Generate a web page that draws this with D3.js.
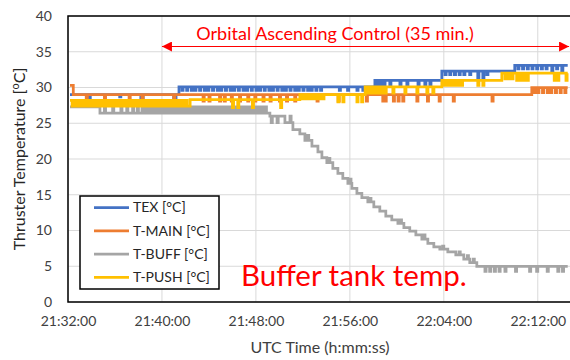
<!DOCTYPE html>
<html>
<head>
<meta charset="utf-8">
<script src="https://cdn.jsdelivr.net/npm/d3@7"></script>
<style>
  body { margin: 0; background: #fff; }
  text { font-family: Lato, "Open Sans", sans-serif; }
</style>
</head>
<body>
<div id="plot"></div>
<script>
// time is minutes after 21:32:00, value is degC
let startTime = "21:32:00";
let xTickLabels = ["21:32:00", "21:40:00", "21:48:00", "21:56:00", "22:04:00", "22:12:00"];
let yTicks = [0, 5, 10, 15, 20, 25, 30, 35, 40];
let seriesNames = ["TEX [°C]", "T-MAIN [°C]", "T-BUFF [°C]", "T-PUSH [°C]"];
let seriesColors = ["#4472C4", "#ED7D31", "#A5A5A5", "#FFC000"];
let controlSpan = ["21:40:00", "22:14:40"]; // orbital ascending control window

let tex = [
[0.17,29.0],[1.7,28.6],[1.9,29.0],[4.4,28.7],[4.5,29.0],[6.2,28.6],[6.4,29.0],[9.0,28.6],[9.2,29.0],
[9.45,30.1],[9.7,29.6],[9.8,30.1],[10.1,29.6],[10.2,30.1],[10.5,29.6],[10.6,30.1],[10.8,29.6],[10.9,30.1],[11.2,29.6],[11.3,30.1],
[11.6,29.6],[11.7,30.1],[11.9,29.6],[12.0,30.1],[12.3,29.6],[12.4,30.1],[12.7,29.6],[12.8,30.1],[13.0,29.6],[13.1,30.1],
[13.4,29.6],[13.5,30.1],[13.8,29.6],[13.9,30.1],[14.1,29.6],[14.2,30.1],[14.5,29.6],[14.6,30.1],[14.9,29.6],[15.0,30.1],
[15.2,29.6],[15.3,30.1],[15.6,29.6],[15.7,30.1],[16.0,29.6],[16.1,30.1],[16.3,29.6],[16.4,30.1],[16.7,29.6],[16.8,30.1],
[17.1,29.6],[17.2,30.1],[17.4,29.6],[17.5,30.1],[17.8,29.6],[17.9,30.1],[18.2,29.6],[18.3,30.1],[18.5,29.6],[18.6,30.1],
[18.9,29.6],[19.0,30.1],[19.3,29.6],[19.4,30.1],[19.6,29.6],[19.7,30.1],[20.0,29.6],[20.1,30.1],[20.4,29.6],[20.5,30.1],
[20.7,29.6],[20.8,30.1],[21.1,29.6],[21.2,30.1],[21.5,29.6],[21.6,30.1],
[23.1,29.6],[23.2,30.1],[23.8,29.6],[23.9,30.1],[24.6,29.6],[24.7,30.1],[25.1,29.6],[25.2,30.1],
[26.13,31.0],[26.3,30.2],[26.4,31.0],[26.6,30.2],[26.7,31.0],[26.9,30.2],[27.0,31.0],[27.4,30.2],[27.5,31.0],[28.26,30.2],[28.36,31.0],
[28.85,30.2],[28.95,31.0],[29.8,30.2],[29.9,31.0],[30.38,30.2],[30.48,31.0],[30.81,30.2],[30.91,31.0],
[31.83,32.3],[32.1,31.8],[32.2,32.3],[32.5,31.8],[32.6,32.3],[32.9,31.8],[33.0,32.3],[33.3,31.8],[33.4,32.3],[33.7,31.8],[33.8,32.3],
[34.2,31.8],[34.3,32.3],[34.89,31.2],[34.99,32.3],[35.32,31.2],[35.42,32.3],[35.66,31.8],[35.76,32.3],
[38.04,33.1],[38.3,32.6],[38.4,33.1],[38.7,32.6],[38.8,33.1],[39.1,32.6],[39.2,33.1],[39.5,32.6],[39.6,33.1],[39.9,32.6],[40.0,33.1],
[40.3,32.6],[40.4,33.1],[40.7,32.6],[40.8,33.1],[41.19,32.3],[41.29,33.1],[41.6,32.6],[41.7,33.1],[42.04,32.3],[42.14,33.1],[42.55,33.1]
];

let tMain = [
[0.17,30.3],[0.45,29.0],[1.55,28.1],[1.65,29.0],[3.1,28.1],[3.2,29.0],[5.2,28.1],[5.3,29.0],[6.3,28.1],[6.4,29.0],[9.0,28.1],[9.1,29.0],
[11.5,28.1],[11.6,29.0],[12.0,28.1],[12.1,29.0],[12.9,28.1],[13.0,29.0],[13.3,28.1],[13.4,29.0],[13.9,28.1],[14.0,29.0],
[14.6,28.1],[14.7,29.0],[15.3,28.1],[15.4,29.0],[15.9,28.1],[16.0,29.0],[16.6,28.1],[16.7,29.0],[17.2,28.1],[17.3,29.0],
[18.0,28.1],[18.1,29.0],[18.6,28.1],[18.7,29.0],[19.3,28.1],[19.4,29.0],[21.2,28.1],[21.3,29.0],[23.0,28.1],[23.1,29.0],
[25.4,28.1],[25.5,29.0],[26.8,28.1],[26.9,29.0],[27.0,28.1],[27.1,29.0],[27.7,28.1],[27.8,29.0],[28.1,28.1],[28.2,29.0],
[28.5,28.1],[28.6,29.0],[29.7,28.1],[29.8,29.0],[30.6,28.1],[30.7,29.0],[31.6,28.1],[31.7,29.0],[32.8,28.1],[32.9,29.0],
[36.1,28.1],[36.2,29.0],
[39.49,30.0],[39.7,29.3],[39.8,30.0],[40.0,29.3],[40.1,30.0],[40.4,29.3],[40.5,30.0],[40.8,29.3],[40.9,30.0],[41.1,29.3],[41.2,30.0],
[41.5,29.3],[41.6,30.0],[41.9,29.3],[42.0,30.0],[42.3,29.3],[42.4,30.0],[42.55,30.0]
];

let tBuff = [
[0.17,27.3],[2.72,26.4],[3.1,27.3],[3.2,26.4],[3.8,27.3],[3.9,26.4],[4.5,27.3],[4.6,26.4],[5.0,27.3],[5.1,26.4],[5.5,27.3],[5.6,26.4],
[5.9,27.3],[6.0,26.4],[6.3,27.3],[6.4,26.4],[6.6,27.3],[6.7,26.4],[6.9,27.3],[7.0,26.4],[7.2,27.3],[7.3,26.4],[7.5,27.3],[7.6,26.4],
[7.8,27.3],[7.9,26.4],[8.1,27.3],[8.2,26.4],[8.4,27.3],[8.5,26.4],[8.7,27.3],[8.8,26.4],[9.0,27.3],[9.1,26.4],[9.3,27.3],[9.4,26.4],
[9.6,27.3],[9.7,26.4],[9.9,27.3],[10.0,26.4],[10.2,27.3],[10.3,26.4],[10.5,27.3],[10.6,26.4],[10.8,27.3],[10.9,26.4],[11.1,27.3],[11.2,26.4],
[11.4,27.3],[11.5,26.4],[11.7,27.3],[11.8,26.4],[12.0,27.3],[12.1,26.4],[12.3,27.3],[12.4,26.4],[12.6,27.3],[12.7,26.4],[12.9,27.3],[13.0,26.4],
[13.2,27.3],[13.3,26.4],[13.5,27.3],[13.6,26.4],[13.8,27.3],[13.9,26.4],[14.1,27.3],[14.2,26.4],[14.4,27.3],[14.5,26.4],[14.7,27.3],[14.8,26.4],
[15.0,27.3],[15.1,26.4],[15.3,27.3],[15.4,26.4],[15.6,27.3],[15.7,26.4],[15.9,27.3],[16.0,26.4],[16.2,27.3],[16.3,26.4],[16.5,27.3],[16.6,26.4],
[16.8,27.3],[16.9,26.4],
[17.19,26.0],[17.3,25.1],[17.4,26.0],[17.8,25.1],[17.9,26.0],
[18.47,25.1],[18.9,26.0],[19.0,25.1],[19.15,24.1],[19.74,23.5],[20.17,22.6],[20.4,23.3],[20.5,22.6],[20.77,21.8],[21.28,21.0],
[21.62,20.2],[22.04,19.5],[22.2,20.1],[22.3,19.5],[22.55,18.7],[22.98,18.0],[23.40,17.3],[23.83,16.6],[24.0,17.2],[24.1,16.6],
[24.17,15.9],[24.60,15.2],[25.02,14.6],[25.53,14.0],[25.7,14.5],[25.8,14.0],[26.04,13.3],[26.55,12.7],[27.06,12.0],[27.57,11.5],
[28.09,11.0],[28.3,11.5],[28.4,11.0],[28.6,10.4],[29.10,9.9],[29.62,9.4],[30.13,8.8],[30.3,9.4],[30.4,8.8],[30.64,8.2],[31.15,7.7],
[31.66,7.4],[31.9,7.8],[32.0,7.4],[32.34,7.0],[33.02,6.6],[33.3,7.0],[33.4,6.6],[33.70,6.0],[34.0,6.5],[34.1,6.0],[34.21,5.5],
[34.5,6.0],[34.6,5.5],[34.81,5.0],
[35.5,4.3],[35.6,5.0],[35.9,4.3],[36.0,5.0],[36.3,4.3],[36.4,5.0],[36.7,4.3],[36.8,5.0],[37.2,4.3],[37.3,5.0],[38.1,4.3],[38.2,5.0],
[39.3,4.3],[39.4,5.0],[39.9,4.3],[40.0,5.0],[40.8,4.3],[40.9,5.0],[41.7,4.3],[41.8,5.0],[42.1,4.3],[42.2,5.0],[42.55,5.0]
];

let tPush = [
[0.17,28.2],[0.35,27.4],[0.5,28.2],[0.7,27.4],[0.85,28.2],[1.05,27.4],[1.2,28.2],[1.4,27.4],[1.55,28.2],[1.75,27.4],[1.9,28.2],
[2.1,27.4],[2.25,28.2],[2.45,27.4],[2.6,28.2],[2.8,27.4],[2.95,28.2],[3.15,27.4],[3.3,28.2],[3.5,27.4],[3.65,28.2],[3.85,27.4],
[4.0,28.2],[4.2,27.4],[4.35,28.2],[4.55,27.4],[4.7,28.2],[4.9,27.4],[5.05,28.2],[5.25,27.4],[5.4,28.2],[5.6,27.4],[5.75,28.2],
[5.95,27.4],[6.1,28.2],[6.3,27.4],[6.45,28.2],[6.65,27.4],[6.8,28.2],[7.0,27.4],[7.15,28.2],[7.35,27.4],[7.5,28.2],[7.7,27.4],
[7.85,28.2],[8.05,27.4],[8.2,28.2],[8.4,27.4],[8.55,28.2],[8.75,27.4],[8.9,28.2],[9.1,27.4],[9.25,28.2],[9.45,27.4],[9.6,28.2],
[9.8,27.4],[9.95,28.2],[10.15,27.4],
[10.4,28.3],[14.0,27.2],[14.1,28.3],[14.45,27.2],[14.55,28.3],[15.7,27.2],[15.8,28.3],[18.1,27.2],[18.2,28.3],
[19.74,29.0],[19.9,28.4],[20.0,29.0],[20.2,28.4],[20.3,29.0],[20.5,28.4],[20.6,29.0],[20.8,28.4],[20.9,29.0],[21.1,28.4],[21.2,29.0],
[21.4,28.4],[21.5,29.0],[21.7,28.4],[21.8,29.0],[22.98,28.0],[23.08,29.0],[23.4,28.0],[23.5,29.0],[24.6,28.0],[24.7,29.0],[25.0,28.0],[25.1,29.0],
[25.3,30.1],[25.5,29.2],[25.6,30.1],[25.8,29.2],[25.9,30.1],[26.1,29.2],[26.2,30.1],[26.4,29.2],[26.5,30.1],[26.7,29.2],[26.8,30.1],
[27.0,29.2],[27.1,30.1],[27.66,29.2],[27.76,30.1],[28.68,29.2],[28.78,30.1],[29.7,29.2],[29.8,30.1],[30.55,29.2],[30.65,30.1],[31.06,29.2],[31.16,30.1],
[31.83,31.0],[32.0,30.3],[32.1,31.0],[32.3,30.3],[32.4,31.0],[32.6,30.3],[32.7,31.0],[32.9,30.3],[33.0,31.0],[33.2,30.3],[33.3,31.0],
[33.5,30.3],[33.6,31.0],[34.89,30.3],[34.99,31.0],[35.32,30.3],[35.42,31.0],
[36.94,32.0],[37.2,31.2],[37.3,32.0],[37.5,31.2],[37.6,32.0],[37.8,31.2],[37.9,32.0],[38.2,31.0],[38.3,32.0],[38.5,31.0],[38.6,32.0],
[38.8,31.0],[38.9,32.0],[39.1,31.0],[39.2,32.0],[41.4,31.0],[41.5,32.0],[41.7,31.0],[41.8,32.0],[42.4,31.0],[42.5,32.0],[42.55,32.0]
];

let allSeries = [tex, tMain, tBuff, tPush];

let margin = { top: 16, left: 68, bottom: 58, right: -3 };
let width = 570 - margin.left - margin.right;
let height = 360 - margin.top - margin.bottom;

let parseTime = d3.timeParse("%H:%M:%S");
let t0 = parseTime(startTime);
let toDate = m => new Date(t0.getTime() + m * 60000);

let svg = d3.select("#plot")
  .append("svg")
  .attr("width", 570)
  .attr("height", 360)
  .style("display", "block");

let g = svg.append("g")
  .attr("transform", "translate(" + margin.left + "," + margin.top + ")");

let x = d3.scaleTime()
  .domain([t0, toDate(43)])
  .range([0, width]);

let y = d3.scaleLinear()
  .domain([0, 40])
  .range([height, 0]);

let xTicks = xTickLabels.map(parseTime);

// grid
g.append("g")
  .selectAll("line.hgrid")
  .data(yTicks)
  .enter()
  .append("line")
  .attr("x1", 0).attr("x2", width)
  .attr("y1", d => y(d)).attr("y2", d => y(d))
  .attr("stroke", "#d9d9d9")
  .attr("stroke-width", 1);

g.append("g")
  .selectAll("line.vgrid")
  .data(xTicks)
  .enter()
  .append("line")
  .attr("x1", d => x(d)).attr("x2", d => x(d))
  .attr("y1", 0).attr("y2", height)
  .attr("stroke", "#d9d9d9")
  .attr("stroke-width", 1);

// axes, labels only
let xAxis = g.append("g")
  .attr("transform", "translate(0," + height + ")")
  .call(d3.axisBottom(x).tickValues(xTicks).tickFormat(d3.timeFormat("%H:%M:%S")).tickSize(0).tickPadding(14));
xAxis.select(".domain").remove();
xAxis.selectAll("text").style("font-size", "14px").style("font-family", "Lato").attr("fill", "#404040");

let yAxis = g.append("g")
  .call(d3.axisLeft(y).tickValues(yTicks).tickSize(0).tickPadding(16));
yAxis.select(".domain").remove();
yAxis.selectAll("text").style("font-size", "14px").style("font-family", "Lato").attr("fill", "#404040");

svg.append("defs").append("clipPath")
  .attr("id", "clip")
  .append("rect")
  .attr("width", width).attr("height", height);

let line = d3.line()
  .curve(d3.curveStepAfter)
  .x(d => x(toDate(d[0])))
  .y(d => y(d[1]));

g.append("g")
  .attr("clip-path", "url(#clip)")
  .selectAll("path")
  .data(allSeries)
  .enter()
  .append("path")
  .attr("fill", "none")
  .attr("stroke", (d, i) => seriesColors[i])
  .attr("stroke-width", 2.75)
  .attr("d", line);

// plot border
g.append("rect")
  .attr("width", width).attr("height", height)
  .attr("fill", "none")
  .attr("stroke", "#000")
  .attr("stroke-width", 1.5);

// arrow for the control window
let defs = svg.select("defs");
defs.append("marker")
  .attr("id", "arrowEnd")
  .attr("viewBox", "0 0 10 10")
  .attr("refX", 10).attr("refY", 5)
  .attr("markerWidth", 12).attr("markerHeight", 10)
  .attr("markerUnits", "userSpaceOnUse")
  .attr("orient", "auto-start-reverse")
  .append("path")
  .attr("d", "M0,0 L10,5 L0,10 Z")
  .attr("fill", "#FF0000");

g.append("line")
  .attr("x1", x(parseTime(controlSpan[0])))
  .attr("x2", x(parseTime(controlSpan[1])))
  .attr("y1", 30.5).attr("y2", 30.5)
  .attr("stroke", "#FF0000")
  .attr("stroke-width", 1)
  .attr("marker-start", "url(#arrowEnd)")
  .attr("marker-end", "url(#arrowEnd)");

g.append("text")
  .attr("x", 267)
  .attr("y", 23.5)
  .attr("text-anchor", "middle")
  .style("font-size", "18px")
  .attr("fill", "#FF0000")
  .text("Orbital Ascending Control (35 min.)");

g.append("text")
  .attr("x", 173)
  .attr("y", 270)
  .style("font-size", "29.5px")
  .attr("fill", "#FF0000")
  .text("Buffer tank temp.");

// legend
let legend = g.append("g").attr("transform", "translate(12,180)");
legend.append("rect")
  .attr("width", 139).attr("height", 93)
  .attr("fill", "#fff")
  .attr("stroke", "#000")
  .attr("stroke-width", 1.5);

let items = legend.selectAll("g.item")
  .data(seriesNames)
  .enter()
  .append("g")
  .attr("transform", (d, i) => "translate(0," + (11.5 + i * 23.3) + ")");

items.append("line")
  .attr("x1", 14).attr("x2", 49)
  .attr("stroke", (d, i) => seriesColors[i])
  .attr("stroke-width", 2.75);

items.append("text")
  .attr("x", 53)
  .attr("dy", "0.35em")
  .style("font-size", "14px")
  .attr("fill", "#262626")
  .text(d => d);

// axis titles
svg.append("text")
  .attr("x", margin.left + 252)
  .attr("y", 353)
  .attr("text-anchor", "middle")
  .style("font-size", "16px")
  .attr("fill", "#404040")
  .text("UTC Time (h:mm:ss)");

let yTitle = svg.append("text")
  .attr("text-anchor", "middle")
  .attr("transform", "translate(25," + (margin.top + height / 2) + ")rotate(-90)")
  .style("font-size", "16px")
  .attr("fill", "#262626");
yTitle.append("tspan").text("Thruster Temperature [");
yTitle.append("tspan").attr("baseline-shift", "super").style("font-size", "11px").text("o");
yTitle.append("tspan").text("C]");
</script>
</body>
</html>
